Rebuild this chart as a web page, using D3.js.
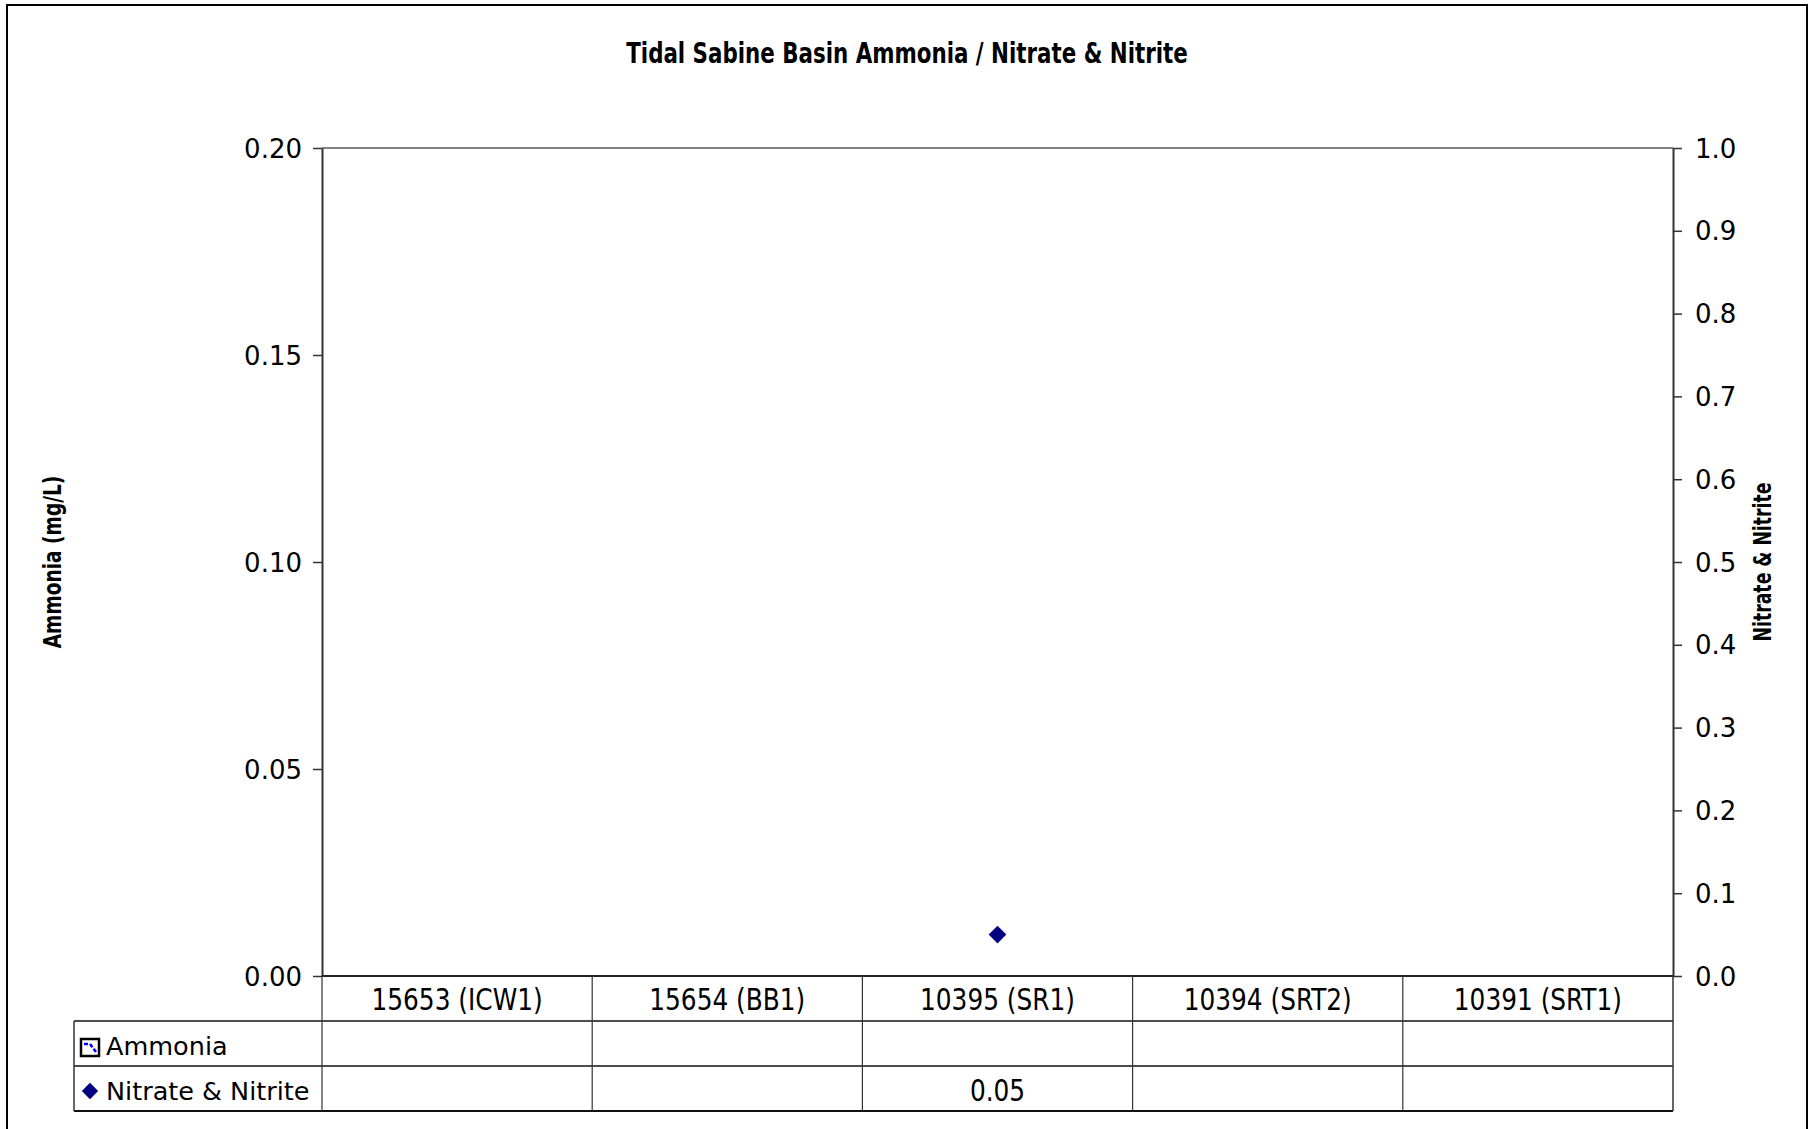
<!DOCTYPE html>
<html>
<head>
<meta charset="utf-8">
<script src="https://cdn.jsdelivr.net/npm/d3@7"></script>
<style>
  html, body { margin: 0; padding: 0; background: #fff; }
  svg { display: block; }
  .narrow { font-family: "Liberation Sans Narrow", "Arial Narrow", "DejaVu Sans Condensed", sans-serif; font-stretch: condensed; }
</style>
</head>
<body>
<script>
// ---- data ----
const categories = ["15653 (ICW1)", "15654 (BB1)", "10395 (SR1)", "10394 (SRT2)", "10391 (SRT1)"];
const ammonia = [null, null, null, null, null];
const nitrateNitrite = [null, null, 0.05, null, null];
const leftTicks = [0, 0.05, 0.10, 0.15, 0.20];
const rightTicks = [0, 0.1, 0.2, 0.3, 0.4, 0.5, 0.6, 0.7, 0.8, 0.9, 1.0];
const seriesNames = ["Ammonia", "Nitrate & Nitrite"];
const titleText = "Tidal Sabine Basin Ammonia / Nitrate & Nitrite";
const leftTitle = "Ammonia (mg/L)";
const rightTitle = "Nitrate & Nitrite";

// ---- layout ----
const W = 1815, H = 1129;
const plot = { left: 322, right: 1673, top: 148, bottom: 976 };
const rowH = 45;
const tableLeft = 74;
const wideFont = "DejaVu Sans, Verdana, sans-serif";

const svg = d3.select("body").append("svg").attr("width", W).attr("height", H);

// outer border
svg.append("rect").attr("x", 7).attr("y", 5).attr("width", 1800).attr("height", 1140)
  .attr("fill", "none").attr("stroke", "#000").attr("stroke-width", 2);

// scales
const x = d3.scaleBand().domain(categories).range([plot.left, plot.right]).padding(0);
const yL = d3.scaleLinear().domain([0, 0.2]).range([plot.bottom, plot.top]);
const yR = d3.scaleLinear().domain([0, 1]).range([plot.bottom, plot.top]);

// title
svg.append("text").attr("class", "narrow")
  .attr("transform", "translate(907,63) scale(0.82,1)")
  .attr("text-anchor", "middle").attr("font-size", 29).attr("font-weight", "bold")
  .text(titleText);

// plot top border (gray)
svg.append("line").attr("x1", plot.left).attr("x2", plot.right).attr("y1", plot.top).attr("y2", plot.top)
  .attr("stroke", "#808080").attr("stroke-width", 2);

// left axis
const gL = svg.append("g").attr("transform", `translate(${plot.left},0)`)
  .call(d3.axisLeft(yL).tickValues(leftTicks).tickSize(9).tickSizeOuter(0).tickPadding(11).tickFormat(d3.format(".2f")));
gL.selectAll("path.domain").attr("stroke", "#333").attr("stroke-width", 2);
gL.selectAll(".tick line").attr("stroke", "#333").attr("stroke-width", 1.5);
gL.selectAll(".tick text").attr("font-size", 26).attr("fill", "#000")
  .attr("font-family", wideFont).attr("dy", "0.35em");

// right axis
const gR = svg.append("g").attr("transform", `translate(${plot.right},0)`)
  .call(d3.axisRight(yR).tickValues(rightTicks).tickSize(9).tickSizeOuter(0).tickPadding(13).tickFormat(d3.format(".1f")));
gR.selectAll("path.domain").attr("stroke", "#333").attr("stroke-width", 2);
gR.selectAll(".tick line").attr("stroke", "#333").attr("stroke-width", 1.5);
gR.selectAll(".tick text").attr("font-size", 26).attr("fill", "#000")
  .attr("font-family", wideFont).attr("dy", "0.35em");

// axis titles (rotated, compressed along text direction)
svg.append("text").attr("class", "narrow")
  .attr("transform", `translate(61,${(plot.top + plot.bottom) / 2}) rotate(-90) scale(0.86,1)`)
  .attr("text-anchor", "middle").attr("font-size", 24).attr("font-weight", "bold").text(leftTitle);
svg.append("text").attr("class", "narrow")
  .attr("transform", `translate(1771,${(plot.top + plot.bottom) / 2}) rotate(-90) scale(0.80,1)`)
  .attr("text-anchor", "middle").attr("font-size", 24).attr("font-weight", "bold").text(rightTitle);

// ---- data table ----
const t = svg.append("g");
const rows = [plot.bottom, plot.bottom + rowH, plot.bottom + 2 * rowH, plot.bottom + 3 * rowH];
t.append("line").attr("x1", plot.left).attr("x2", plot.right).attr("y1", rows[0]).attr("y2", rows[0])
  .attr("stroke", "#222").attr("stroke-width", 2.2);
[rows[1], rows[2], rows[3]].forEach((yy, i) => {
  t.append("line").attr("x1", tableLeft).attr("x2", plot.right).attr("y1", yy).attr("y2", yy)
    .attr("stroke", "#111").attr("stroke-width", i === 2 ? 2 : 1.5);
});
t.append("line").attr("x1", tableLeft).attr("x2", tableLeft).attr("y1", rows[1]).attr("y2", rows[3])
  .attr("stroke", "#333").attr("stroke-width", 1.5);
categories.forEach(c => {
  t.append("line").attr("x1", x(c)).attr("x2", x(c)).attr("y1", rows[0]).attr("y2", rows[3])
    .attr("stroke", "#333").attr("stroke-width", 1.2);
});
t.append("line").attr("x1", plot.right).attr("x2", plot.right).attr("y1", rows[0]).attr("y2", rows[3])
  .attr("stroke", "#333").attr("stroke-width", 1.5);

// category labels
t.selectAll("text.cat").data(categories).enter().append("text")
  .attr("class", "cat narrow")
  .attr("transform", d => `translate(${x(d) + x.bandwidth() / 2},${rows[0] + 34}) scale(0.92,1)`)
  .attr("text-anchor", "middle").attr("font-size", 30).text(d => d);

// series rows
const seriesData = [ammonia, nitrateNitrite];
seriesData.forEach((vals, si) => {
  const rowTop = rows[1 + si];
  categories.forEach((c, ci) => {
    if (vals[ci] != null) {
      t.append("text").attr("class", "narrow")
        .attr("transform", `translate(${x(c) + x.bandwidth() / 2},${rowTop + 35}) scale(0.92,1)`)
        .attr("text-anchor", "middle").attr("font-size", 30).text(d3.format(".2f")(vals[ci]));
    }
  });
  t.append("text").attr("font-family", wideFont)
    .attr("x", 106).attr("y", rowTop + 34).attr("font-size", 25.5).text(seriesNames[si]);
});

// legend keys
const k1 = svg.append("g").attr("transform", `translate(81,${rows[1] + 18})`);
k1.append("rect").attr("x", 0).attr("y", 0).attr("width", 18).attr("height", 17)
  .attr("fill", "#fff").attr("stroke", "#000").attr("stroke-width", 2.5);
k1.append("path").attr("d", "M3,5 L9,5 L15,13").attr("fill", "none").attr("stroke", "#0000ff").attr("stroke-width", 2.5)
  .attr("stroke-dasharray", "4,2");
const diamond = d3.symbol().type(d3.symbolDiamond2);
svg.append("path").attr("d", diamond.size(170)()).attr("fill", "#000080")
  .attr("transform", `translate(90,${rows[2] + 25})`);

// ---- marks ----
svg.selectAll("path.nn").data(categories.map((c, i) => ({ c, v: nitrateNitrite[i] })).filter(d => d.v != null))
  .enter().append("path").attr("class", "nn")
  .attr("d", diamond.size(200)()).attr("fill", "#000080")
  .attr("transform", d => `translate(${x(d.c) + x.bandwidth() / 2},${yR(d.v)})`);
svg.selectAll("path.am").data(categories.map((c, i) => ({ c, v: ammonia[i] })).filter(d => d.v != null))
  .enter().append("path").attr("class", "am")
  .attr("d", d3.symbol().type(d3.symbolSquare).size(100)()).attr("fill", "#0000ff")
  .attr("transform", d => `translate(${x(d.c) + x.bandwidth() / 2},${yL(d.v)})`);
</script>
</body>
</html>
